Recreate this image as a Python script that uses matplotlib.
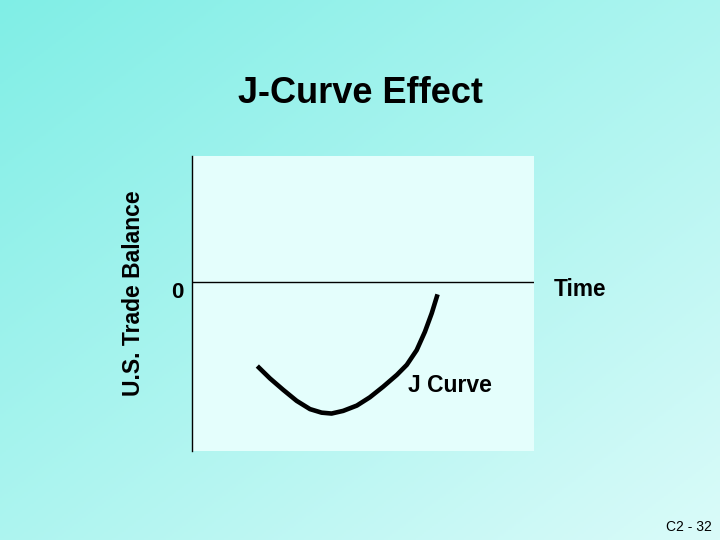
import numpy as np
import matplotlib
matplotlib.use("Agg")
import matplotlib.pyplot as plt

plt.rcParams['font.family'] = ['Liberation Sans', 'DejaVu Sans']

# J curve (time units 0..10, balance units, 0 = the horizontal line)
time = [1.91, 2.28, 2.67, 3.06, 3.45, 3.79, 4.08, 4.42, 4.82,
        5.20, 5.59, 5.99, 6.28, 6.57, 6.81, 7.01, 7.18]
balance = [-2.85, -3.27, -3.66, -4.03, -4.31, -4.43, -4.46, -4.37, -4.19,
           -3.91, -3.55, -3.15, -2.81, -2.31, -1.69, -1.06, -0.42]

title = "J-Curve Effect"
y_label = "U.S. Trade Balance"
x_label = "Time"
curve_label = "J Curve"
slide_no = "C2 - 32"

fig = plt.figure(figsize=(7.2, 5.4), dpi=100)

# diagonal gradient background
bg = fig.add_axes([0, 0, 1, 1])
bg.set_axis_off()
c0 = np.array([128, 238, 230]) / 255
c1 = np.array([218, 251, 249]) / 255
yy, xx = np.mgrid[0:1:270j, 0:1:360j]
t = (xx + yy) / 2
grad = c0[None, None, :] * (1 - t[..., None]) + c1[None, None, :] * t[..., None]
bg.imshow(grad, aspect='auto', extent=[0, 1, 0, 1], origin='upper')
bg.set_xlim(0, 1)
bg.set_ylim(0, 1)

ax = fig.add_axes([192 / 720, 89 / 540, 342 / 720, 295 / 540])
ax.set_facecolor('#e4fefc')
ax.set_xlim(0, 10)
ax.set_ylim(-5.73, 4.27)
for s in ['top', 'right', 'bottom']:
    ax.spines[s].set_visible(False)
ax.spines['left'].set_linewidth(1)
ax.set_xticks([])
ax.set_yticks([])
ax.axhline(0, color='black', lw=1)

ax.plot(time, balance, color='black', lw=3.3, solid_capstyle='butt', solid_joinstyle='round')

ax.text(-0.42, 0, "0", ha='center', va='top', fontsize=16, fontweight='bold')
ax.text(6.32, -3.52, curve_label, ha='left', va='center', fontsize=16.5, fontweight='bold')

fig.text(580 / 720, 1 - 289 / 540, x_label, ha='center', va='center', fontsize=16.3, fontweight='bold')
fig.text(133 / 720, 1 - 293 / 540, y_label, ha='center', va='center', rotation=90,
         fontsize=16.5, fontweight='bold')
fig.text(360 / 720, 1 - 93 / 540, title, ha='center', va='center', fontsize=26, fontweight='bold')
fig.text(712 / 720, 1 - 527 / 540, slide_no, ha='right', va='center', fontsize=10)

fig.savefig("out.png", dpi=100)
